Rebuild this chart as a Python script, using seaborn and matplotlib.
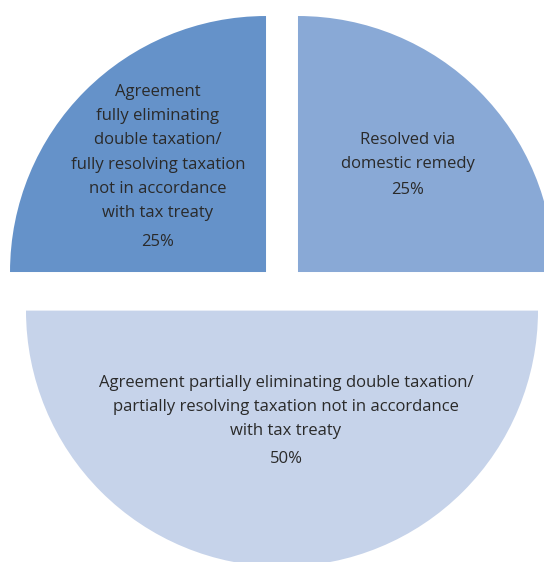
import matplotlib
matplotlib.use("Agg")
import matplotlib.pyplot as plt
import seaborn as sns

# ---- data ----
categories = [
    "Resolved via\ndomestic remedy",
    "Agreement partially eliminating double taxation/\npartially resolving taxation not in accordance\nwith tax treaty",
    "Agreement\nfully eliminating\ndouble taxation/\nfully resolving taxation\nnot in accordance\nwith tax treaty",
]
shares = [25, 50, 25]
pct_labels = ["25%", "50%", "25%"]
colors = ["#89A9D6", "#C6D3EA", "#6592C9"]

sns.set_theme(style="white")
plt.rcParams["font.family"] = ["Open Sans", "DejaVu Sans"]

W, H = 544, 562
fig = plt.figure(figsize=(W / 100, H / 100), dpi=100)
ax = fig.add_axes([0, 0, 1, 1])

R = 256
cx, cy = 282, H - 288
explode = [22.6] * len(shares)   # pie explode is in data units

ax.pie(shares, colors=colors, startangle=90, counterclock=False,
       radius=R, center=(cx, cy), explode=explode,
       wedgeprops=dict(linewidth=0, edgecolor="none"), frame=True)

ax.set_xlim(0, W)
ax.set_ylim(0, H)
ax.set_aspect("equal", adjustable="box")
ax.axis("off")

# label anchors: (center x, first-line baseline y in image px, pct baseline y)
anchors = [(408, 144, 194), (286, 387, 463), (158, 96, 246)]
step = 24.2
tcol = "#2a2a2a"
fs = 12.0
for lab, pct, (x, y0, yp) in zip(categories, pct_labels, anchors):
    for i, line in enumerate(lab.split("\n")):
        ax.text(x, H - (y0 + i * step), line, ha="center", va="baseline",
                fontsize=fs, color=tcol)
    ax.text(x, H - yp, pct, ha="center", va="baseline", fontsize=fs, color=tcol)

fig.savefig("out.png", dpi=100)
